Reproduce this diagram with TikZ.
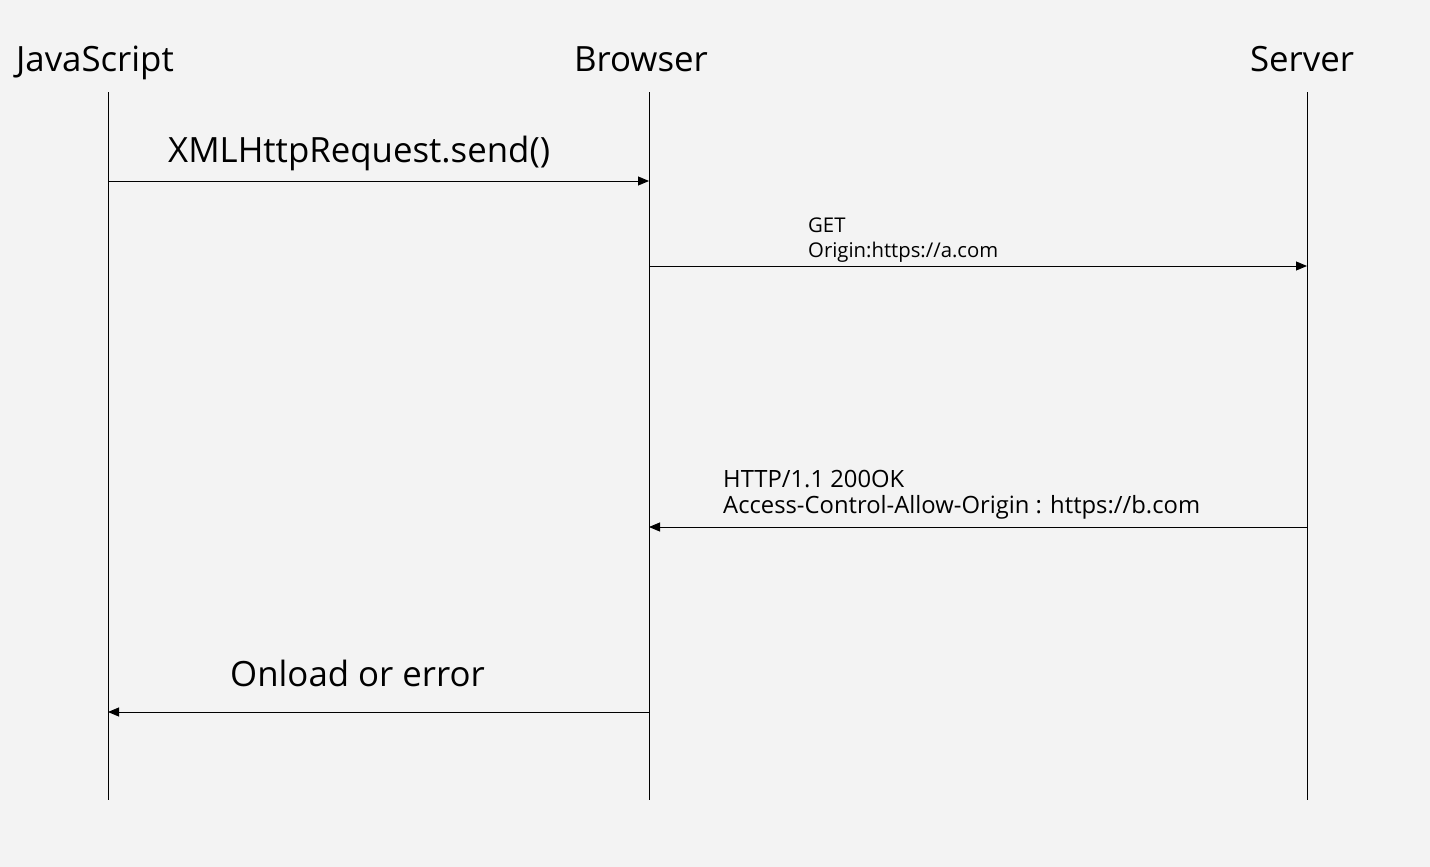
\documentclass[tikz,border=0pt]{standalone}
\usepackage{fontspec}
\setmainfont{Open Sans}
\usetikzlibrary{arrows.meta}
\definecolor{bg}{HTML}{F3F3F3}
\tikzset{
  life/.style={draw=black, line width=0.9pt},
  msg/.style={draw=black, line width=0.9pt, -{Triangle[length=11pt,width=9pt]}},
  actor/.style={font=\fontsize{34.8}{40}\selectfont, inner sep=0pt, anchor=base},
  biglbl/.style={font=\fontsize{34.8}{40}\selectfont, inner sep=0pt, anchor=base west},
  smalllbl/.style={font=\fontsize{20.3}{25}\selectfont, inner sep=0pt, align=left, anchor=base west},
  midlbl/.style={font=\fontsize{23.8}{26}\selectfont, inner sep=0pt, align=left, anchor=base west},
}
\begin{document}
\begin{tikzpicture}[x=1pt,y=-1pt]
\fill[bg] (0,0) rectangle (1430,867);
\useasboundingbox (0,0) rectangle (1430,867);
% actors
\node[actor] (js) at (95,72) {JavaScript};
\node[actor] (br) at (641,72) {Browser};
\node[actor] (sv) at (1302,72) {Server};
% lifelines
\coordinate (jsT) at (108,92); \coordinate (jsB) at (108,800);
\coordinate (brT) at (649,92); \coordinate (brB) at (649,800);
\coordinate (svT) at (1307,92); \coordinate (svB) at (1307,800);
\draw[life] (jsT) -- (jsB);
\draw[life] (brT) -- (brB);
\draw[life] (svT) -- (svB);
% message points
\coordinate (m1a) at (108,181); \coordinate (m1b) at (649,181);
\coordinate (m2a) at (649,266); \coordinate (m2b) at (1307,266);
\coordinate (m3a) at (1307,527); \coordinate (m3b) at (649,527);
\coordinate (m4a) at (649,712); \coordinate (m4b) at (108,712);
\draw[msg] (m1a) -- (m1b);
\draw[msg] (m2a) -- (m2b);
\draw[msg] (m3a) -- (m3b);
\draw[msg] (m4a) -- (m4b);
% labels
\node[biglbl] (l1) at (168,162) {XMLHttpRequest.send()};
\node[smalllbl] (l2) at (808,257) {GET\\Origin:https://a.com};
\node[midlbl] (l3) at (723,513) {HTTP/1.1 200OK\\Access-Control-Allow-Origin : https://b.com};
\node[biglbl] (l4) at (230,686) {Onload or error};
\end{tikzpicture}
\end{document}
